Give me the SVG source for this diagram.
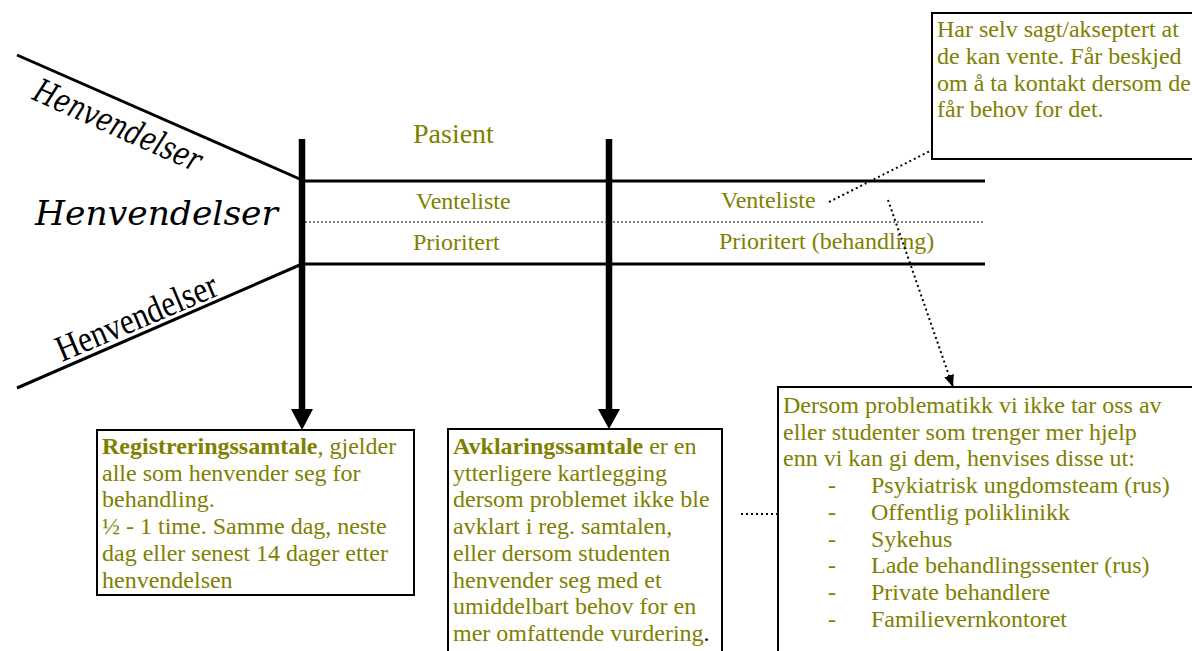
<svg xmlns="http://www.w3.org/2000/svg" width="1192" height="651" viewBox="0 0 1192 651">
<style>
.t{font-family:"Liberation Serif","Times New Roman",serif;font-size:24px;fill:#808000}
.b{font-weight:bold}
.box{fill:#fff;stroke:#000;stroke-width:2}
.thick{stroke:#000;stroke-width:3;fill:none}
.bar{stroke:#000;stroke-width:6.5;fill:none}
.dot{stroke:#000;stroke-width:2;stroke-dasharray:2 3;fill:none}
.hen{font-family:"DejaVu Serif",serif;font-style:italic;fill:#000}
</style>
<defs>
<marker id="ah" viewBox="0 0 12 10" refX="12" refY="5" markerWidth="12" markerHeight="10" markerUnits="userSpaceOnUse" orient="auto">
<path d="M0,0 L12,5 L0,10 z" fill="#000"/>
</marker>
</defs>
<rect width="1192" height="651" fill="#fff"/>

<g id="lanes">
<line class="thick" x1="17" y1="55" x2="302" y2="180"/>
<line class="thick" x1="17" y1="388" x2="302" y2="264"/>
<line class="thick" x1="302" y1="181" x2="985" y2="181"/>
<line class="thick" x1="302" y1="264" x2="985" y2="264"/>
<line x1="305" y1="222" x2="985" y2="222" stroke="#000" stroke-width="1" stroke-dasharray="2 2"/>
</g>

<g id="labels">
<text class="hen" transform="translate(31,99) rotate(24)" font-size="33" textLength="180" lengthAdjust="spacingAndGlyphs">Henvendelser</text>
<text class="hen" x="35" y="225" font-size="34" textLength="243" lengthAdjust="spacingAndGlyphs">Henvendelser</text>
<text transform="translate(62,362) rotate(-23)" font-family="Liberation Serif,serif" font-size="37" textLength="172" lengthAdjust="spacingAndGlyphs" fill="#000">Henvendelser</text>
<text class="t" x="413" y="143" style="font-size:28px">Pasient</text>
<text class="t" x="416" y="209">Venteliste</text>
<text class="t" x="413" y="250">Prioritert</text>
<text class="t" x="721" y="208">Venteliste</text>
<text class="t" x="719" y="249">Prioritert (behandling)</text>
</g>

<g id="connectors">
<line class="bar" x1="302" y1="139" x2="302" y2="411"/>
<polygon points="291,409 313,409 302,430" fill="#000"/>
<line class="bar" x1="609" y1="139" x2="609" y2="411"/>
<polygon points="598,409 620,409 609,429" fill="#000"/>
<line class="dot" x1="829" y1="202" x2="932" y2="150"/>
<line class="dot" x1="888" y1="200" x2="953" y2="387" marker-end="url(#ah)"/>
<line class="dot" x1="741" y1="514" x2="778" y2="514"/>
</g>

<g id="wait-note">
<rect class="box" x="932" y="13" width="270" height="146"/>
<text class="t"><tspan x="937" y="37">Har selv sagt/akseptert at</tspan><tspan x="937" y="64">de kan vente. Får beskjed</tspan><tspan x="937" y="90.5">om å ta kontakt dersom de</tspan><tspan x="937" y="117">får behov for det.</tspan></text>
</g>

<g id="registrering">
<rect class="box" x="97" y="430" width="317" height="165"/>
<text class="t"><tspan x="102" y="454"><tspan class="b">Registreringssamtale</tspan>, gjelder</tspan><tspan x="102" y="480.7">alle som henvender seg for</tspan><tspan x="102" y="507.4">behandling.</tspan><tspan x="102" y="534.1">½ - 1 time. Samme dag, neste</tspan><tspan x="102" y="560.8">dag eller senest 14 dager etter</tspan><tspan x="102" y="587.5">henvendelsen</tspan></text>
</g>

<g id="avklaring">
<rect class="box" x="448" y="429" width="274" height="240"/>
<text class="t"><tspan x="453" y="454"><tspan class="b">Avklaringssamtale</tspan> er en</tspan><tspan x="453" y="480.7">ytterligere kartlegging</tspan><tspan x="453" y="507.4">dersom problemet ikke ble</tspan><tspan x="453" y="534.1">avklart i reg. samtalen,</tspan><tspan x="453" y="560.8">eller dersom studenten</tspan><tspan x="453" y="587.5">henvender seg med et</tspan><tspan x="453" y="614.2">umiddelbart behov for en</tspan><tspan x="453" y="640.9">mer omfattende vurdering<tspan fill="#000">.</tspan></tspan></text>
</g>

<g id="henvisning">
<rect class="box" x="778" y="387" width="430" height="290"/>
<text class="t"><tspan x="783" y="413">Dersom problematikk vi ikke tar oss av</tspan><tspan x="783" y="439.7">eller studenter som trenger mer hjelp</tspan><tspan x="783" y="466.4">enn vi kan gi dem, henvises disse ut:</tspan></text>
<text class="t"><tspan x="828" y="493.1">-</tspan><tspan x="828" y="519.8">-</tspan><tspan x="828" y="546.5">-</tspan><tspan x="828" y="573.2">-</tspan><tspan x="828" y="599.9">-</tspan><tspan x="828" y="626.6">-</tspan></text>
<text class="t"><tspan x="871" y="493.1">Psykiatrisk ungdomsteam (rus)</tspan><tspan x="871" y="519.8">Offentlig poliklinikk</tspan><tspan x="871" y="546.5">Sykehus</tspan><tspan x="871" y="573.2">Lade behandlingssenter (rus)</tspan><tspan x="871" y="599.9">Private behandlere</tspan><tspan x="871" y="626.6">Familievernkontoret</tspan></text>
</g>
</svg>
